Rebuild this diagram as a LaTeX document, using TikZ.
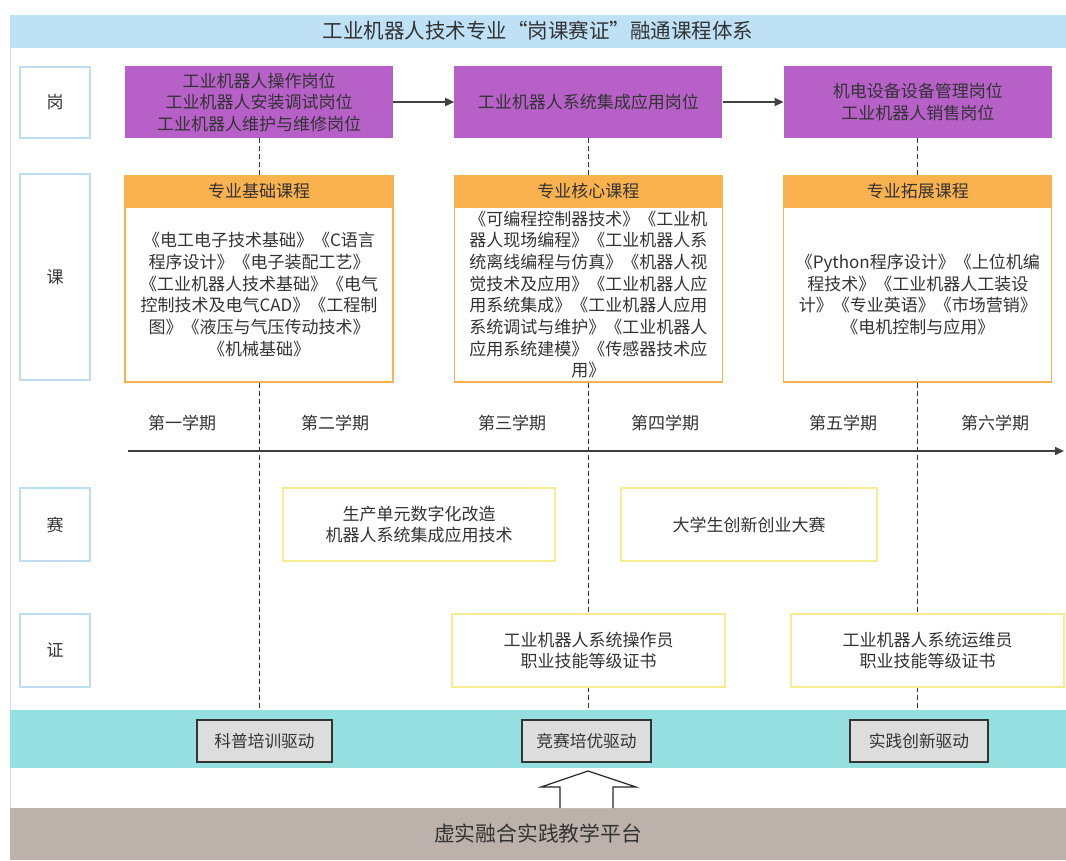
\documentclass[tikz,border=0pt]{standalone}
\usepackage{fontspec}
\setmainfont{Noto Sans CJK SC}
\usetikzlibrary{
  arrows.meta, % for the Triangle arrow tips
  positioning, % for relative placement of the boxes
}
\definecolor{txt}{HTML}{333333}
\definecolor{titleblue}{HTML}{BEE1F6}
\definecolor{sideblue}{HTML}{BFDDF1}
\definecolor{jobpurple}{HTML}{B660C8}
\definecolor{courseorange}{HTML}{FAB24E}
\definecolor{matchyellow}{HTML}{F6EC92}
\definecolor{bandcyan}{HTML}{96DFE0}
\definecolor{drivegray}{HTML}{DDDDDD}
\definecolor{platgray}{HTML}{BDB1AC}
\tikzset{
  sidebox/.style={ % the row labels on the left
    rectangle,draw=sideblue,line width=1.3pt,fill=white, % white box, light blue frame
    minimum width=70pt,
    text=txt,font=\fontsize{17}{20}\selectfont,
  },
  job/.style={ % purple job boxes
    rectangle,fill=jobpurple, % filled, no frame
    minimum width=268pt,minimum height=72pt,
    align=center,text=txt,font=\fontsize{17}{21.5}\selectfont,
  },
  head/.style={ % orange header of a course group
    rectangle,fill=courseorange,draw=courseorange,line width=1.2pt,
    minimum width=268pt,minimum height=30pt,
    text=txt,font=\fontsize{17}{20}\selectfont,
  },
  course/.style={ % body of a course group
    rectangle,draw=courseorange,line width=1.2pt,fill=white,
    minimum width=268pt,minimum height=175pt,
    align=center,text=txt,font=\fontsize{17}{21.7}\selectfont,
  },
  match/.style={ % competitions and certificates
    rectangle,draw=matchyellow,line width=1.2pt,fill=white,
    minimum height=73pt,
    align=center,text=txt,font=\fontsize{17}{21.5}\selectfont,
  },
  term/.style={ % semester labels
    text=txt,font=\fontsize{17}{20}\selectfont,
  },
  drive/.style={ % grey boxes in the cyan band
    rectangle,draw=black!80,line width=1.2pt,fill=drivegray,
    minimum height=42pt,
    text=txt,font=\fontsize{16.7}{20}\selectfont,
  },
  flow/.style={ % solid arrows
    -{Triangle[length=9pt,width=8pt]},
    draw=black!75,line width=1.6pt,
  },
  guide/.style={ % dashed semester boundaries
    draw=black!80,line width=0.9pt,dash pattern=on 5pt off 3pt,
  },
}
\begin{document}
\begin{tikzpicture}[x=1pt,y=-1pt]
	\useasboundingbox[fill=white] (0,0) rectangle (1066,860);
	\draw[black!12,line width=1pt] (10,47) -- (10,860);
	
	\node[rectangle,fill=titleblue,minimum width=1056pt,minimum height=33pt,
	      text=txt,font=\fontsize{20.5}{24}\selectfont] (title) at (538,31)
	      {工业机器人技术专业“岗课赛证”融通课程体系};
	
	\node[sidebox,minimum height=71pt] (gang) at (55,102.5) {岗};
	\node[sidebox,minimum height=206pt] (ke) at (55,277) {课};
	\node[sidebox,minimum height=73pt] (sai) at (55,524.5) {赛};
	\node[sidebox,minimum height=73pt] (zheng) at (55,650.5) {证};
	
	\node[job] (p1) at (259,102) {工业机器人操作岗位\\工业机器人安装调试岗位\\工业机器人维护与维修岗位};
	\node[job,right=61pt of p1] (p2) {工业机器人系统集成应用岗位};
	\node[job,right=61pt of p2] (p3) {机电设备设备管理岗位\\工业机器人销售岗位};
	
	\draw[flow] (p1) -- (p2);
	\draw[flow] (p2) -- (p3);
	
	\node[head,below=37pt of p1] (h1) {专业基础课程};
	\node[head,below=37pt of p2] (h2) {专业核心课程};
	\node[head,below=37pt of p3] (h3) {专业拓展课程};
	
	\node[course,below=0pt of h1] (c1) {《电工电子技术基础》《C语言\\程序设计》《电子装配工艺》\\《工业机器人技术基础》《电气\\控制技术及电气CAD》《工程制\\图》《液压与气压传动技术》\\《机械基础》};
	\node[course,below=0pt of h2] (c2) {《可编程控制器技术》《工业机\\器人现场编程》《工业机器人系\\统离线编程与仿真》《机器人视\\觉技术及应用》《工业机器人应\\用系统集成》《工业机器人应用\\系统调试与维护》《工业机器人\\应用系统建模》《传感器技术应\\用》};
	\node[course,below=0pt of h3] (c3) {《Python程序设计》《上位机编\\程技术》《工业机器人工装设\\计》《专业英语》《市场营销》\\《电机控制与应用》};
	
	\node[rectangle,fill=bandcyan,minimum width=1056pt,minimum height=58pt] (band) at (538,739) {};
	
	\draw[guide] (p1) -- (h1);
	\draw[guide] (p2) -- (h2);
	\draw[guide] (p3) -- (h3);
	\draw[guide] (c1.south) -- (c1.south |- band.north);
	\draw[guide] (c2.south) -- (c2.south |- band.north);
	\draw[guide] (c3.south) -- (c3.south |- band.north);
	
	\node[term] (t1) at (182,423) {第一学期};
	\node[term] (t2) at (335,423) {第二学期};
	\node[term] (t3) at (512,423) {第三学期};
	\node[term] (t4) at (665,423) {第四学期};
	\node[term] (t5) at (843,423) {第五学期};
	\node[term] (t6) at (995,423) {第六学期};
	
	\coordinate (axisL) at (128,451);
	\coordinate (axisR) at (1064,451);
	\draw[flow,line width=1.5pt] (axisL) -- (axisR);
	
	\node[match,minimum width=272pt] (s1) at (419,524.5) {生产单元数字化改造\\机器人系统集成应用技术};
	\node[match,minimum width=256pt] (s2) at (749,524.5) {大学生创新创业大赛};
	
	\node[match,minimum width=273pt] (z1) at (588.5,650.5) {工业机器人系统操作员\\职业技能等级证书};
	\node[match,minimum width=273pt] (z2) at (927.5,650.5) {工业机器人系统运维员\\职业技能等级证书};
	
	\node[drive,minimum width=135pt] (d1) at (264.5,741) {科普培训驱动};
	\node[drive,minimum width=129pt] (d2) at (586.5,741) {竞赛培优驱动};
	\node[drive,minimum width=138pt] (d3) at (919,741) {实践创新驱动};
	
	\node[rectangle,fill=platgray,minimum width=1056pt,minimum height=52pt,
	      text=txt,font=\fontsize{20.8}{24}\selectfont] (plat) at (538,834) {虚实融合实践教学平台};
	
	\draw[black!85,line width=1.2pt,fill=white,line join=miter]
	      (560,808) -- (560,787) -- (541,787) -- (588,771) -- (636,787) -- (613,787) -- (613,808);
\end{tikzpicture}
\end{document}
